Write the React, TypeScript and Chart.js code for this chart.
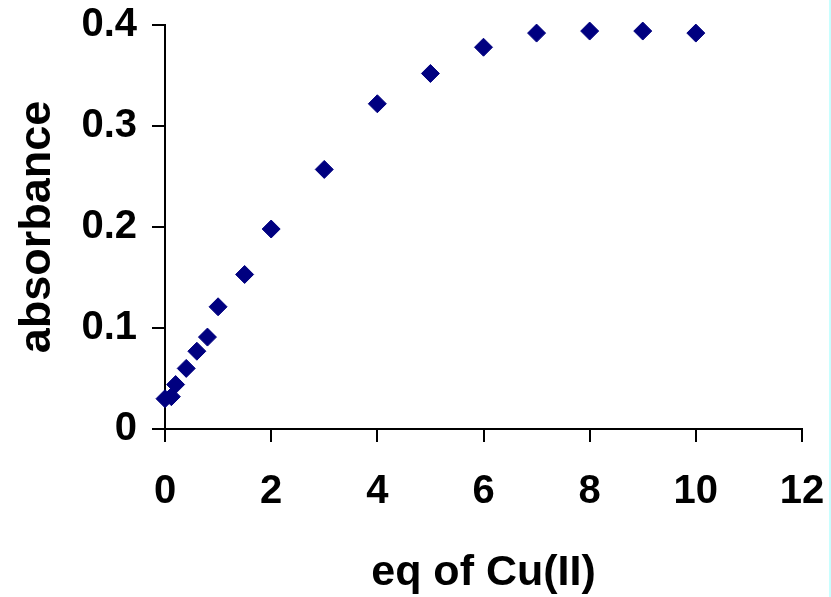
import React, { useEffect, useRef } from "react";
import { Chart, registerables } from "chart.js";

Chart.register(...registerables);

const eqCu: number[] = [0, 0.12, 0.2, 0.4, 0.6, 0.8, 1.0, 1.5, 2, 3, 4, 5, 6, 7, 8, 9, 10];
const absorbance: number[] = [0.03, 0.032, 0.044, 0.06, 0.077, 0.091, 0.121, 0.153, 0.198, 0.257, 0.322, 0.352, 0.378, 0.392, 0.394, 0.394, 0.392];

const xTitle = "eq of Cu(II)";
const yTitle = "absorbance";

const FONT = "'Liberation Sans', Arial, sans-serif";

export default function App() {
  const ref = useRef<HTMLCanvasElement | null>(null);

  useEffect(() => {
    if (!ref.current) return;
    const points = eqCu.map((x, i) => ({ x, y: absorbance[i] }));
    const chart = new Chart(ref.current, {
      type: "scatter",
      data: {
        datasets: [
          {
            data: points,
            pointStyle: "rectRot",
            pointRadius: 9,
            pointHoverRadius: 9,
            backgroundColor: "#000080",
            borderColor: "#000080",
            borderWidth: 1,
            clip: false as any,
          },
        ],
      },
      options: {
        animation: false,
        responsive: false,
        maintainAspectRatio: false,
        layout: { padding: { top: 25, right: 29, left: 0, bottom: 0 } },
        plugins: {
          legend: { display: false },
          tooltip: { enabled: false },
        },
        scales: {
          x: {
            type: "linear",
            min: 0,
            max: 12,
            ticks: {
              stepSize: 2,
              color: "#000",
              padding: 26,
              font: { family: FONT, size: 40, weight: "bold" },
              maxRotation: 0,
            },
            grid: {
              drawOnChartArea: false,
              drawTicks: true,
              tickLength: 13,
              color: "#000",
              lineWidth: 2,
            },
            border: { display: true, color: "#000", width: 2 },
            title: {
              display: true,
              text: xTitle,
              color: "#000",
              font: { family: FONT, size: 43, weight: "bold", lineHeight: 1.12 },
              padding: { top: 0, bottom: 0 },
            },
            afterFit: (scale: any) => {
              scale.height = 168;
              scale.paddingLeft = 0;
              scale.paddingRight = 0;
            },
          },
          y: {
            type: "linear",
            min: 0,
            max: 0.4,
            ticks: {
              stepSize: 0.1,
              color: "#000",
              padding: 15,
              font: { family: FONT, size: 40, weight: "bold" },
            },
            grid: {
              drawOnChartArea: false,
              drawTicks: true,
              tickLength: 13,
              color: "#000",
              lineWidth: 2,
            },
            border: { display: true, color: "#000", width: 2 },
            title: {
              display: true,
              text: yTitle,
              color: "#000",
              font: { family: FONT, size: 45, weight: "bold", lineHeight: 1.1 },
              padding: { top: 13, bottom: 0 },
            },
            afterFit: (scale: any) => {
              scale.width = 165;
              scale.paddingTop = 0;
              scale.paddingBottom = 0;
            },
          },
        },
      },
    });
    return () => chart.destroy();
  }, []);

  return (
    <div
      style={{
        position: "fixed",
        left: 0,
        top: 0,
        width: 831,
        height: 597,
        background: "#fff",
        overflow: "hidden",
      }}
    >
      <canvas ref={ref} width={831} height={597} style={{ display: "block" }} />
      <div
        style={{
          position: "absolute",
          left: 829,
          top: 0,
          width: 2,
          height: 597,
          background: "#c8ffff",
        }}
      />
    </div>
  );
}
